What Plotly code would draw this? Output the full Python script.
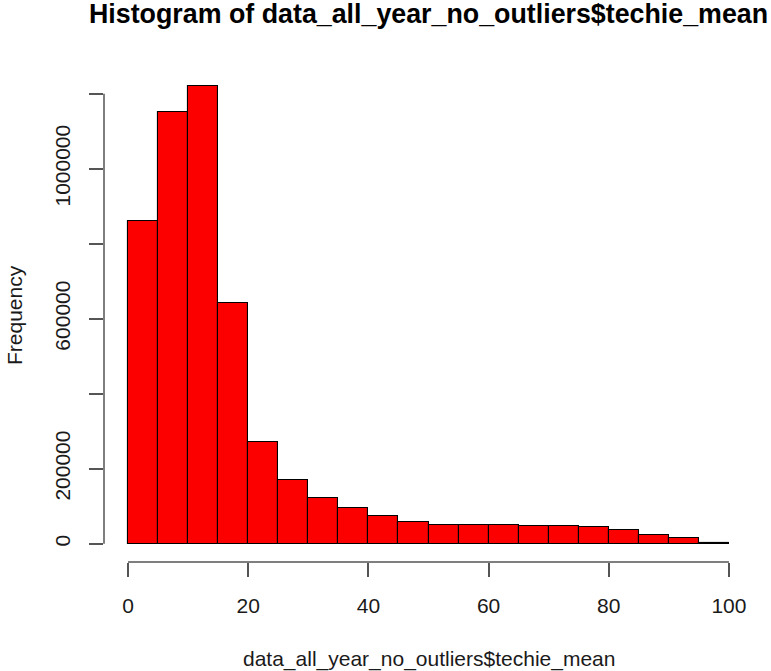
import plotly.graph_objects as go

# ---- data ----
bin_left = [0, 5, 10, 15, 20, 25, 30, 35, 40, 45, 50, 55, 60, 65, 70, 75, 80, 85, 90, 95]
bin_width = 5
counts = [862000, 1152000, 1220000, 642000, 271000, 170000, 123000, 94000, 73500, 59000,
          50600, 49700, 48700, 47300, 47000, 44000, 36000, 24500, 14000, 1500]
x_ticks = [0, 20, 40, 60, 80, 100]
x_tick_labels = ["0", "20", "40", "60", "80", "100"]
y_ticks = [0, 200000, 400000, 600000, 800000, 1000000, 1200000]
y_tick_labels = ["0", "200000", "", "600000", "", "1000000", ""]

title = "Histogram of data_all_year_no_outliers$techie_mean"
x_title = "data_all_year_no_outliers$techie_mean"
y_title = "Frequency"

FONT = "Liberation Sans, Arial, Helvetica, sans-serif"
AXIS_COL = "#555555"
TEXT_COL = "#1a1a1a"
TICK_SIZE = 21
TITLE_SIZE = 26.8

# R-style ranges: 4% extension on each side
lo = bin_left[0]
hi = bin_left[-1] + bin_width
xpad = 0.04 * (hi - lo)
xr = [lo - xpad, hi + xpad]
ymax = max(counts)
yr = [-0.04 * ymax, 1.04 * ymax]

fig = go.Figure()
fig.add_trace(go.Bar(
    x=bin_left, y=counts, width=bin_width, offset=0,
    marker=dict(color="#fc0000", line=dict(color="black", width=1.1)),
    hoverinfo="x+y",
))

def xp(v):
    return (v - xr[0]) / (xr[1] - xr[0])

def yp(v):
    return (v - yr[0]) / (yr[1] - yr[0])

shapes = [
    dict(type="line", xref="paper", yref="paper",
         x0=xp(x_ticks[0]), x1=xp(x_ticks[-1]), y0=0, y1=0,
         line=dict(color=AXIS_COL, width=1.5)),
    dict(type="line", xref="paper", yref="paper",
         x0=0, x1=0, y0=yp(y_ticks[0]), y1=yp(y_ticks[-1]),
         line=dict(color=AXIS_COL, width=1.5)),
]

W, H = 771, 671
L, R, T, B = 104, 18, 68, 109
PW, PH = W - L - R, H - T - B

def py(page_y):   # page pixel y -> paper y
    return 1 - (page_y - T) / PH

def px(page_x):   # page pixel x -> paper x
    return (page_x - L) / PW

fig.update_layout(
    width=W, height=H, autosize=False,
    margin=dict(l=L, r=R, t=T, b=B, pad=0),
    paper_bgcolor="white", plot_bgcolor="white",
    showlegend=False, bargap=0,
    font=dict(family=FONT, size=TICK_SIZE, color=TEXT_COL),
    shapes=shapes,
    xaxis=dict(range=xr, tickmode="array", tickvals=x_ticks, ticktext=x_tick_labels,
               ticks="outside", ticklen=14, tickwidth=1.5, tickcolor=AXIS_COL,
               showgrid=False, zeroline=False, showline=False,
               tickfont=dict(size=TICK_SIZE, color=TEXT_COL), ticklabelstandoff=11),
    yaxis=dict(range=yr, tickmode="array", tickvals=y_ticks, ticktext=y_tick_labels,
               ticks="outside", ticklen=14, tickwidth=1.5, tickcolor=AXIS_COL,
               showgrid=False, zeroline=False, showline=False, tickangle=-90,
               tickfont=dict(size=TICK_SIZE, color=TEXT_COL), ticklabelstandoff=11),
    annotations=[
        dict(text="<b>" + title + "</b>", xref="paper", yref="paper",
             x=0.5, y=py(14), xanchor="center", yanchor="middle",
             showarrow=False, font=dict(size=TITLE_SIZE, color="black", family=FONT)),
        dict(text=x_title, xref="paper", yref="paper",
             x=0.5, y=py(659), xanchor="center", yanchor="middle",
             showarrow=False, font=dict(size=TICK_SIZE, color=TEXT_COL, family=FONT)),
        dict(text=y_title, xref="paper", yref="paper", textangle=-90,
             x=px(14), y=0.5, xanchor="center", yanchor="middle",
             showarrow=False, font=dict(size=TICK_SIZE, color=TEXT_COL, family=FONT)),
    ],
)

fig.write_html("out.html",
               config={"displayModeBar": False},
               post_script="document.body.style.margin='0';document.body.style.padding='0';")
